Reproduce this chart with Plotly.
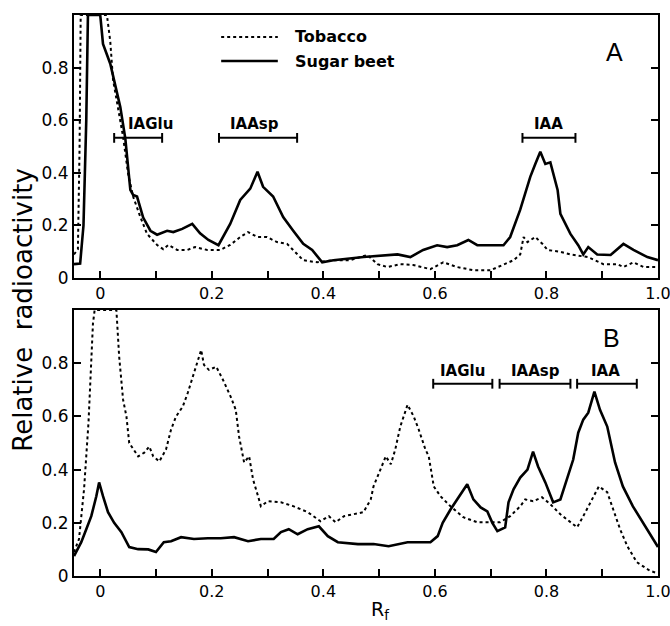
import plotly.graph_objects as go

# ---------------- Data ----------------
# Panel A
a_beet_x = [-0.047, -0.036, -0.03, -0.025, -0.022, 0.0, 0.005, 0.018, 0.036, 0.045, 0.054, 0.059, 0.066,
            0.077, 0.09, 0.102, 0.12, 0.131, 0.147, 0.165, 0.179, 0.194, 0.212, 0.233, 0.251, 0.269,
            0.282, 0.292, 0.31, 0.328, 0.346, 0.364, 0.38, 0.398, 0.418, 0.472, 0.533, 0.556, 0.579,
            0.604, 0.622, 0.64, 0.66, 0.676, 0.723, 0.735, 0.753, 0.771, 0.78, 0.789, 0.798, 0.807,
            0.82, 0.825, 0.843, 0.857, 0.866, 0.875, 0.891, 0.915, 0.938, 0.956, 0.981, 1.0]
a_beet_y = [0.053, 0.055, 0.2, 0.6, 1.0, 1.0, 0.89, 0.815, 0.65, 0.53, 0.335, 0.316, 0.31,
            0.23, 0.18, 0.165, 0.18, 0.175, 0.187, 0.206, 0.17, 0.145, 0.125, 0.206, 0.297, 0.34,
            0.404, 0.347, 0.31, 0.232, 0.18, 0.13, 0.107, 0.06, 0.068, 0.08, 0.09, 0.08, 0.107,
            0.125, 0.118, 0.125, 0.145, 0.125, 0.125, 0.156, 0.26, 0.385, 0.434, 0.48, 0.434, 0.44,
            0.335, 0.244, 0.168, 0.125, 0.09, 0.118, 0.09, 0.088, 0.13, 0.107, 0.08, 0.068]

a_tob_x = [-0.047, -0.04, -0.037, -0.035, 0.012, 0.018, 0.023, 0.032, 0.041, 0.05, 0.059, 0.072, 0.084,
           0.102, 0.113, 0.122, 0.138, 0.156, 0.17, 0.192, 0.215, 0.233, 0.251, 0.265, 0.282, 0.299,
           0.317, 0.335, 0.353, 0.364, 0.389, 0.418, 0.448, 0.479, 0.497, 0.515, 0.538, 0.561, 0.592,
           0.615, 0.64, 0.669, 0.7, 0.723, 0.741, 0.753, 0.759, 0.766, 0.78, 0.793, 0.802, 0.825,
           0.843, 0.874, 0.902, 0.927, 0.938, 0.956, 0.974, 1.0]
a_tob_y = [0.09, 0.11, 0.5, 1.0, 1.0, 0.9, 0.754, 0.65, 0.537, 0.396, 0.31, 0.232, 0.168,
           0.126, 0.11, 0.126, 0.107, 0.107, 0.118, 0.107, 0.107, 0.126, 0.156, 0.175, 0.156, 0.156,
           0.137, 0.13, 0.09, 0.068, 0.06, 0.068, 0.068, 0.088, 0.053, 0.042, 0.053, 0.05, 0.034,
           0.06, 0.042, 0.03, 0.03, 0.05, 0.068, 0.09, 0.156, 0.137, 0.156, 0.13, 0.107, 0.1,
           0.09, 0.08, 0.053, 0.053, 0.042, 0.06, 0.042, 0.042]

# Panel B
b_beet_x = [-0.047, -0.034, -0.025, -0.016, -0.007, -0.002, 0.005, 0.014, 0.025, 0.038, 0.052, 0.068,
            0.086, 0.1, 0.114, 0.127, 0.145, 0.168, 0.193, 0.216, 0.24, 0.265, 0.288, 0.311, 0.324,
            0.338, 0.354, 0.372, 0.392, 0.408, 0.426, 0.462, 0.49, 0.517, 0.551, 0.592, 0.605, 0.614,
            0.628, 0.642, 0.658, 0.669, 0.682, 0.694, 0.703, 0.712, 0.726, 0.732, 0.741, 0.753, 0.766,
            0.776, 0.785, 0.798, 0.812, 0.825, 0.837, 0.848, 0.857, 0.866, 0.875, 0.886, 0.896, 0.909,
            0.923, 0.937, 0.955, 0.973, 0.989, 1.0]
b_beet_y = [0.075, 0.127, 0.176, 0.225, 0.3, 0.352, 0.3, 0.24, 0.2, 0.165, 0.109, 0.101,
            0.1, 0.09, 0.127, 0.131, 0.146, 0.139, 0.142, 0.142, 0.146, 0.131, 0.139, 0.139, 0.165,
            0.176, 0.157, 0.176, 0.187, 0.15, 0.127, 0.12, 0.12, 0.112, 0.127, 0.127, 0.15, 0.2,
            0.25, 0.296, 0.345, 0.288, 0.258, 0.243, 0.2, 0.169, 0.183, 0.277, 0.326, 0.37, 0.4,
            0.468, 0.412, 0.352, 0.277, 0.288, 0.363, 0.438, 0.539, 0.588, 0.614, 0.693, 0.625, 0.562,
            0.427, 0.337, 0.262, 0.2, 0.15, 0.109]

b_tob_x = [-0.047, -0.038, -0.029, -0.021, -0.013, -0.01, 0.029, 0.034, 0.041, 0.047, 0.052, 0.068,
           0.079, 0.088, 0.095, 0.106, 0.118, 0.127, 0.136, 0.148, 0.157, 0.168, 0.181, 0.186, 0.195,
           0.208, 0.22, 0.234, 0.243, 0.249, 0.258, 0.267, 0.274, 0.283, 0.288, 0.3, 0.324, 0.347,
           0.372, 0.395, 0.41, 0.422, 0.437, 0.472, 0.485, 0.49, 0.503, 0.512, 0.521, 0.529, 0.538,
           0.551, 0.562, 0.571, 0.583, 0.589, 0.598, 0.61, 0.628, 0.651, 0.676, 0.699, 0.717, 0.735,
           0.753, 0.762, 0.776, 0.792, 0.807, 0.825, 0.843, 0.855, 0.866, 0.884, 0.894, 0.909, 0.92,
           0.932, 0.945, 0.962, 0.986, 1.0]
b_tob_y = [0.09, 0.139, 0.326, 0.577, 0.95, 1.0, 1.0, 0.824, 0.663, 0.6, 0.5, 0.45,
           0.464, 0.487, 0.45, 0.431, 0.476, 0.551, 0.6, 0.637, 0.689, 0.764, 0.85, 0.794, 0.775,
           0.787, 0.738, 0.674, 0.625, 0.524, 0.427, 0.45, 0.363, 0.3, 0.262, 0.281, 0.277, 0.262,
           0.24, 0.206, 0.225, 0.202, 0.225, 0.24, 0.288, 0.337, 0.4, 0.45, 0.42, 0.476, 0.562,
           0.644, 0.6, 0.551, 0.476, 0.45, 0.337, 0.3, 0.262, 0.221, 0.202, 0.202, 0.202, 0.225,
           0.262, 0.288, 0.281, 0.296, 0.27, 0.232, 0.202, 0.183, 0.225, 0.3, 0.337, 0.315, 0.25,
           0.176, 0.112, 0.052, 0.019, 0.01]

# Fraction brackets
a_br_names = ["IAGlu", "IAAsp", "IAA"]
a_br_start = [0.025, 0.213, 0.757]
a_br_end = [0.111, 0.353, 0.852]
a_br_y = 0.533
a_lbl_x = [0.09, 0.276, 0.804]
a_lbl_y = 0.585

b_br_names = ["IAGlu", "IAAsp", "IAA"]
b_br_start = [0.597, 0.716, 0.855]
b_br_end = [0.703, 0.843, 0.962]
b_br_y = 0.723
b_lbl_x = [0.649, 0.78, 0.905]
b_lbl_y = 0.772

x_tickvals = [0.0, 0.1, 0.2, 0.3, 0.4, 0.5, 0.6, 0.7, 0.8, 0.9, 1.0]
x_ticktext = ["0", " ", "0.2", " ", "0.4", " ", "0.6", " ", "0.8", " ", "1.0"]
y_tickvals = [0.0, 0.2, 0.4, 0.6, 0.8]
y_ticktext = ["0", "0.2", "0.4", "0.6", "0.8"]

series_names = ["Tobacco", "Sugar beet"]

# ---------------- Figure ----------------
FONT = "DejaVu Sans"
fig = go.Figure()

dot_line = dict(color="black", width=2, dash="dot")
solid_line = dict(color="black", width=2.6)

fig.add_trace(go.Scatter(x=a_tob_x, y=a_tob_y, mode="lines", line=dot_line, xaxis="x", yaxis="y",
                         name=series_names[0], showlegend=False))
fig.add_trace(go.Scatter(x=a_beet_x, y=a_beet_y, mode="lines", line=solid_line, xaxis="x", yaxis="y",
                         name=series_names[1], showlegend=False))
fig.add_trace(go.Scatter(x=b_tob_x, y=b_tob_y, mode="lines", line=dot_line, xaxis="x2", yaxis="y2",
                         name=series_names[0], showlegend=False))
fig.add_trace(go.Scatter(x=b_beet_x, y=b_beet_y, mode="lines", line=solid_line, xaxis="x2", yaxis="y2",
                         name=series_names[1], showlegend=False))

annotations = []


def add_brackets(starts, ends, yv, names, lx, ly, xa, ya):
    for s, e, n, tx in zip(starts, ends, names, lx):
        fig.add_trace(go.Scatter(x=[s, e], y=[yv, yv], mode="lines+markers",
                                 line=dict(color="black", width=2),
                                 marker=dict(symbol="line-ns-open", size=7,
                                             line=dict(color="black", width=2)),
                                 xaxis=xa, yaxis=ya, showlegend=False, hoverinfo="skip"))
        annotations.append(dict(x=tx, y=ly, xref=xa, yref=ya, text="<b>%s</b>" % n, showarrow=False,
                                xanchor="center", yanchor="middle",
                                font=dict(family=FONT, size=15, color="black")))


add_brackets(a_br_start, a_br_end, a_br_y, a_br_names, a_lbl_x, a_lbl_y, "x", "y")
add_brackets(b_br_start, b_br_end, b_br_y, b_br_names, b_lbl_x, b_lbl_y, "x2", "y2")

common_x = dict(range=[-0.047, 1.0], tickvals=x_tickvals, ticktext=x_ticktext, ticks="inside",
                ticklen=7, tickwidth=2, tickcolor="black", showline=True, linewidth=2,
                linecolor="black", mirror=True, showgrid=False, zeroline=False,
                ticklabeloverflow="allow", automargin=False,
                tickfont=dict(family=FONT, size=16, color="black"))
common_y = dict(range=[0, 1.0], tickvals=y_tickvals, ticktext=y_ticktext, ticks="inside",
                ticklen=7, tickwidth=2, tickcolor="black", showline=True, linewidth=2,
                linecolor="black", mirror="ticks", showgrid=False, zeroline=False,
                automargin=False,
                tickfont=dict(family=FONT, size=17, color="black"))

# legend (drawn manually)
leg_x0, leg_x1 = 0.252, 0.349
leg_y = [0.961, 0.918]
fig.add_shape(type="line", xref="paper", yref="paper", x0=leg_x0, x1=leg_x1, y0=leg_y[0], y1=leg_y[0],
              line=dot_line)
fig.add_shape(type="line", xref="paper", yref="paper", x0=leg_x0, x1=leg_x1, y0=leg_y[1], y1=leg_y[1],
              line=solid_line)
for name, yy in zip(series_names, leg_y):
    annotations.append(dict(x=0.375, y=yy, xref="paper", yref="paper", text="<b>%s</b>" % name,
                            showarrow=False, xanchor="left", yanchor="middle",
                            font=dict(family=FONT, size=16, color="black")))

annotations.append(dict(x=0.926, y=0.934, xref="paper", yref="paper", text="A", showarrow=False,
                        xanchor="center", yanchor="middle",
                        font=dict(family="Liberation Sans", size=25, color="black")))
annotations.append(dict(x=0.921, y=0.424, xref="paper", yref="paper", text="B", showarrow=False,
                        xanchor="center", yanchor="middle",
                        font=dict(family="Liberation Sans", size=25, color="black")))
annotations.append(dict(x=-0.088, y=0.474, xref="paper", yref="paper", text="Relative  radioactivity",
                        showarrow=False, textangle=-90, xanchor="center", yanchor="middle",
                        font=dict(family=FONT, size=26, color="black")))
annotations.append(dict(x=0.524, y=-0.062, xref="paper", yref="paper", text="R<sub>f</sub>",
                        showarrow=False, xanchor="center", yanchor="middle",
                        font=dict(family=FONT, size=19, color="black")))

fig.update_layout(
    width=670, height=626,
    margin=dict(l=74, r=12, t=15, b=50, autoexpand=False),
    paper_bgcolor="white", plot_bgcolor="white",
    xaxis=dict(domain=[0, 1], anchor="y", **common_x),
    yaxis=dict(domain=[0.531, 1.0], anchor="x", **common_y),
    xaxis2=dict(domain=[0, 1], anchor="y2", **common_x),
    yaxis2=dict(domain=[0, 0.474], anchor="x2", **common_y),
    annotations=annotations,
    showlegend=False,
)

fig.write_html("out.html")
